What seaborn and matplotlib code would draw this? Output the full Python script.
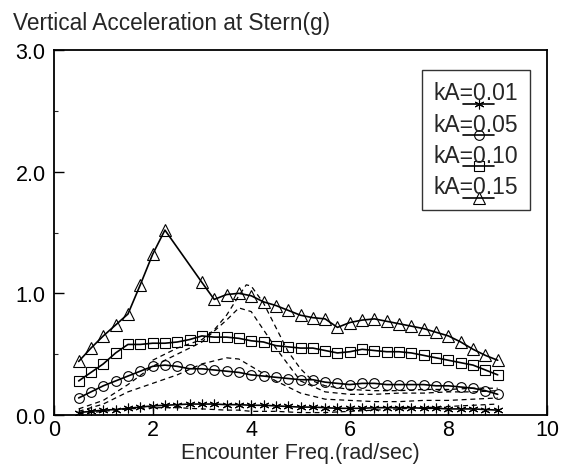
import matplotlib
matplotlib.use("Agg")
import matplotlib.pyplot as plt
import seaborn as sns
from matplotlib.legend_handler import HandlerLine2D
from matplotlib.transforms import Affine2D
from matplotlib.lines import Line2D
from matplotlib.ticker import MultipleLocator

# ---------------- data ----------------
freq = [0.5, 0.75, 1.0, 1.25, 1.5, 1.75, 2.0, 2.25, 2.5, 2.75, 3.0, 3.25, 3.5,
        3.75, 4.0, 4.25, 4.5, 4.75, 5.0, 5.25, 5.5, 5.75, 6.0, 6.25, 6.5, 6.75,
        7.0, 7.25, 7.5, 7.75, 8.0, 8.25, 8.5, 8.75, 9.0]

ka001 = [0.02, 0.03, 0.04, 0.045, 0.055, 0.065, 0.075, 0.08, 0.085, 0.09, 0.09,
         0.09, 0.085, 0.085, 0.08, 0.08, 0.075, 0.07, 0.065, 0.065, 0.06, 0.055,
         0.055, 0.055, 0.06, 0.06, 0.06, 0.06, 0.055, 0.055, 0.05, 0.05, 0.05,
         0.045, 0.04]
ka005 = [0.14, 0.19, 0.24, 0.28, 0.32, 0.36, 0.40, 0.41, 0.40, 0.38, 0.38, 0.37,
         0.36, 0.35, 0.33, 0.32, 0.31, 0.30, 0.29, 0.29, 0.27, 0.26, 0.25, 0.26,
         0.26, 0.25, 0.25, 0.25, 0.25, 0.24, 0.24, 0.23, 0.22, 0.20, 0.17]
ka010 = [0.28, 0.35, 0.42, 0.51, 0.58, 0.58, 0.59, 0.59, 0.60, 0.62, 0.65, 0.64,
         0.64, 0.63, 0.61, 0.60, 0.57, 0.56, 0.55, 0.55, 0.53, 0.51, 0.52, 0.54,
         0.53, 0.52, 0.52, 0.51, 0.49, 0.47, 0.45, 0.43, 0.41, 0.37, 0.33]

freq_tri = [0.5, 0.75, 1.0, 1.25, 1.5, 1.75, 2.0, 2.25, 3.0, 3.25, 3.5, 3.75,
            4.0, 4.25, 4.5, 4.75, 5.0, 5.25, 5.5, 5.75, 6.0, 6.25, 6.5, 6.75,
            7.0, 7.25, 7.5, 7.75, 8.0, 8.25, 8.5, 8.75, 9.0]
ka015 = [0.44, 0.55, 0.65, 0.74, 0.83, 1.07, 1.32, 1.52, 1.09, 0.95, 0.99, 1.00,
         0.98, 0.93, 0.90, 0.86, 0.82, 0.80, 0.79, 0.72, 0.76, 0.78, 0.79, 0.77,
         0.75, 0.73, 0.71, 0.68, 0.65, 0.60, 0.54, 0.49, 0.45]

# dashed (comparison) curves
dfreq = [0.5, 1.0, 1.5, 2.0, 2.5, 3.0, 3.5, 3.75, 4.0, 4.5, 5.0, 5.5, 6.0, 6.5,
         7.0, 7.5, 8.0, 8.5, 9.0]
dash001 = [0.01, 0.03, 0.05, 0.06, 0.06, 0.05, 0.04, 0.04, 0.03, 0.03, 0.02, 0.02,
           0.03, 0.04, 0.05, 0.06, 0.07, 0.08, 0.09]
dash005 = [0.03, 0.09, 0.19, 0.26, 0.33, 0.42, 0.47, 0.46, 0.40, 0.28, 0.18, 0.13,
           0.12, 0.11, 0.11, 0.12, 0.12, 0.13, 0.14]
dash010 = [0.05, 0.12, 0.25, 0.40, 0.50, 0.60, 0.78, 0.88, 0.85, 0.55, 0.28, 0.19,
           0.17, 0.17, 0.18, 0.18, 0.19, 0.19, 0.20]
dfreq4 = [2.0, 2.5, 3.0, 3.25, 3.5, 3.75, 3.9, 4.0, 4.25, 4.5, 4.75, 5.0, 5.25,
          5.5, 6.0, 6.5, 7.0, 7.5, 8.0, 8.5, 9.0]
dash015 = [0.45, 0.55, 0.62, 0.70, 0.82, 0.98, 1.07, 1.06, 0.92, 0.72, 0.52, 0.38,
           0.28, 0.24, 0.21, 0.20, 0.20, 0.21, 0.21, 0.22, 0.22]

labels = ["kA=0.01", "kA=0.05", "kA=0.10", "kA=0.15"]

# ---------------- style ----------------
sns.set_style("ticks")
plt.rcParams["font.family"] = ["Liberation Sans", "DejaVu Sans"]

fig = plt.figure(figsize=(5.66, 4.77), dpi=100)
ax = fig.add_axes([54 / 566, 1 - 416 / 477, 493 / 566, 365 / 477])

dash_style = (0, (4, 3))
for fx, fy in [(dfreq, dash001), (dfreq, dash005), (dfreq, dash010), (dfreq4, dash015)]:
    sns.lineplot(x=fx, y=fy, ax=ax, color="black", lw=0.9, linestyle=dash_style,
                 sort=False, estimator=None, legend=False)

solid = [
    (freq, ka001, (6, 2, 0), 7, labels[0]),
    (freq, ka005, "o", 7, labels[1]),
    (freq, ka010, "s", 7, labels[2]),
    (freq_tri, ka015, "^", 8, labels[3]),
]
for fx, fy, mk, ms, lab in solid:
    sns.lineplot(x=fx, y=fy, ax=ax, color="black", lw=1.2, marker=mk, ms=ms,
                 mfc="none", mec="black", mew=0.8, sort=False, estimator=None,
                 legend=False, label=lab)

ax.set_xlim(0, 10)
ax.set_ylim(0, 3.0)
ax.set_xticks([0, 2, 4, 6, 8, 10])
ax.set_yticks([0, 1, 2, 3])
ax.set_yticklabels(["0.0", "1.0", "2.0", "3.0"])
ax.yaxis.set_minor_locator(MultipleLocator(0.5))
ax.tick_params(which="major", direction="in", length=7, width=1,
               labelsize=15.5, pad=6, colors="black")
ax.tick_params(axis="x", which="major", pad=3)
ax.tick_params(which="minor", direction="in", length=3, width=0.8)
for s in ax.spines.values():
    s.set_visible(True)
    s.set_linewidth(1.3)
    s.set_color("black")

ax.set_xlabel("Encounter Freq.(rad/sec)", fontsize=15.5, labelpad=1)
ax.set_ylabel("")
fig.text(13 / 566, 1 - 30 / 477, "Vertical Acceleration at Stern(g)",
         fontsize=16.3, ha="left", va="baseline")


class ShiftedHandler(HandlerLine2D):
    def create_artists(self, legend, orig_handle, xdescent, ydescent, width,
                       height, fontsize, trans):
        arts = super().create_artists(legend, orig_handle, xdescent, ydescent,
                                      width, height, fontsize, trans)
        for a in arts:
            a.set_transform(Affine2D().translate(21, -9) + trans)
        return arts


handles, labs = ax.get_legend_handles_labels()
leg = ax.legend(handles, labs, loc="upper right",
                bbox_to_anchor=((530 - 54) / 493, 1 - (71 - 51) / 365),
                borderaxespad=0, fontsize=16.5, handlelength=1.35,
                handletextpad=-1.35, labelspacing=0.36, borderpad=0.5,
                frameon=True, fancybox=False, edgecolor="black",
                handler_map={Line2D: ShiftedHandler()})
leg.get_frame().set_linewidth(1.0)

fig.savefig("out.png", dpi=100)
